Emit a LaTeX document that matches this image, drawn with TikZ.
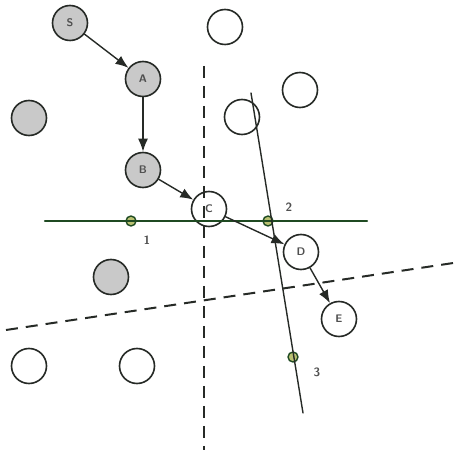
\documentclass[tikz,border=0pt]{standalone}
\usepackage{tikz}
\usetikzlibrary{arrows.meta}
\definecolor{grInk}{HTML}{262A26}
\definecolor{grFill}{HTML}{C9C9C9}
\definecolor{grText}{HTML}{505050}
\definecolor{grGreen}{HTML}{1F4A22}
\definecolor{grPoint}{HTML}{B9C172}
\tikzset{
  gr diagram/.style={font=\sffamily\bfseries\fontsize{11}{13}\selectfont,
    line cap=round, line join=round},
  gr node/.style={circle, draw=grInk, fill=white, line width=1.6pt,
    minimum size=35pt, inner sep=0pt, text=grText},
  gr visited/.style={gr node, fill=grFill},
  gr arrow/.style={-{Latex[length=13pt,width=10pt]}, draw=grInk, line width=1.4pt},
  gr cut/.style={draw=grInk, line width=2pt, line cap=butt,
    dash pattern=on 12pt off 8pt},
  gr line/.style={draw=grGreen, line width=2.2pt},
  gr ray/.style={draw=grInk, line width=1.4pt},
  gr point/.style={circle, draw=grGreen, fill=grPoint, line width=1.4pt,
    minimum size=10pt, inner sep=0pt},
  gr label/.style={text=grText, inner sep=1pt, font=\sffamily\bfseries\fontsize{12}{14}\selectfont}
}
\begin{document}
\begin{tikzpicture}[gr diagram,x=1pt,y=-1pt]
\useasboundingbox (0,0) rectangle (461,454);
% path nodes
\node[gr visited] (s) at (70,23) {S};
\node[gr visited] (a) at (143,79) {A};
\node[gr visited] (b) at (143,170) {B};
\node[gr node] (c) at (209,209) {C};
\node[gr node] (d) at (301,252) {D};
\node[gr node] (e) at (339,319) {E};
% other nodes
\node[gr visited] (g1) at (29,118) {};
\node[gr visited] (g2) at (111,277) {};
\node[gr node] (w1) at (225,27) {};
\node[gr node] (w2) at (242,117) {};
\node[gr node] (w3) at (300,90) {};
\node[gr node] (w4) at (29,366) {};
\node[gr node] (w5) at (137,366) {};
% crossing points
\node[gr point] (p1) at (131,221) {};
\node[gr point] (p2) at (268,221) {};
\node[gr point] (p3) at (293,357) {};
\node[gr label] (l1) at (147,240) {1};
\node[gr label] (l2) at (289,207) {2};
\node[gr label] (l3) at (317,372) {3};
% separating lines
\coordinate (vtop) at (204,66);
\coordinate (vbot) at (204,450);
\coordinate (dleft) at (6,330);
\coordinate (dright) at (460,262);
\draw[gr cut] (vtop) -- (vbot);
\draw[gr cut] (dleft) -- (dright);
\coordinate (hleft) at (45,221);
\coordinate (hright) at (367,221);
\coordinate (rtop) at (251,93);
\coordinate (rbot) at (303,413);
\draw[gr line] (hleft) -- (hright);
\draw[gr ray] (rtop) -- (rbot);
% route
\draw[gr arrow] (s) -- (a);
\draw[gr arrow] (a) -- (b);
\draw[gr arrow] (b) -- (c);
\draw[gr arrow] (c) -- (d);
\draw[gr arrow] (d) -- (e);
\end{tikzpicture}
\end{document}
